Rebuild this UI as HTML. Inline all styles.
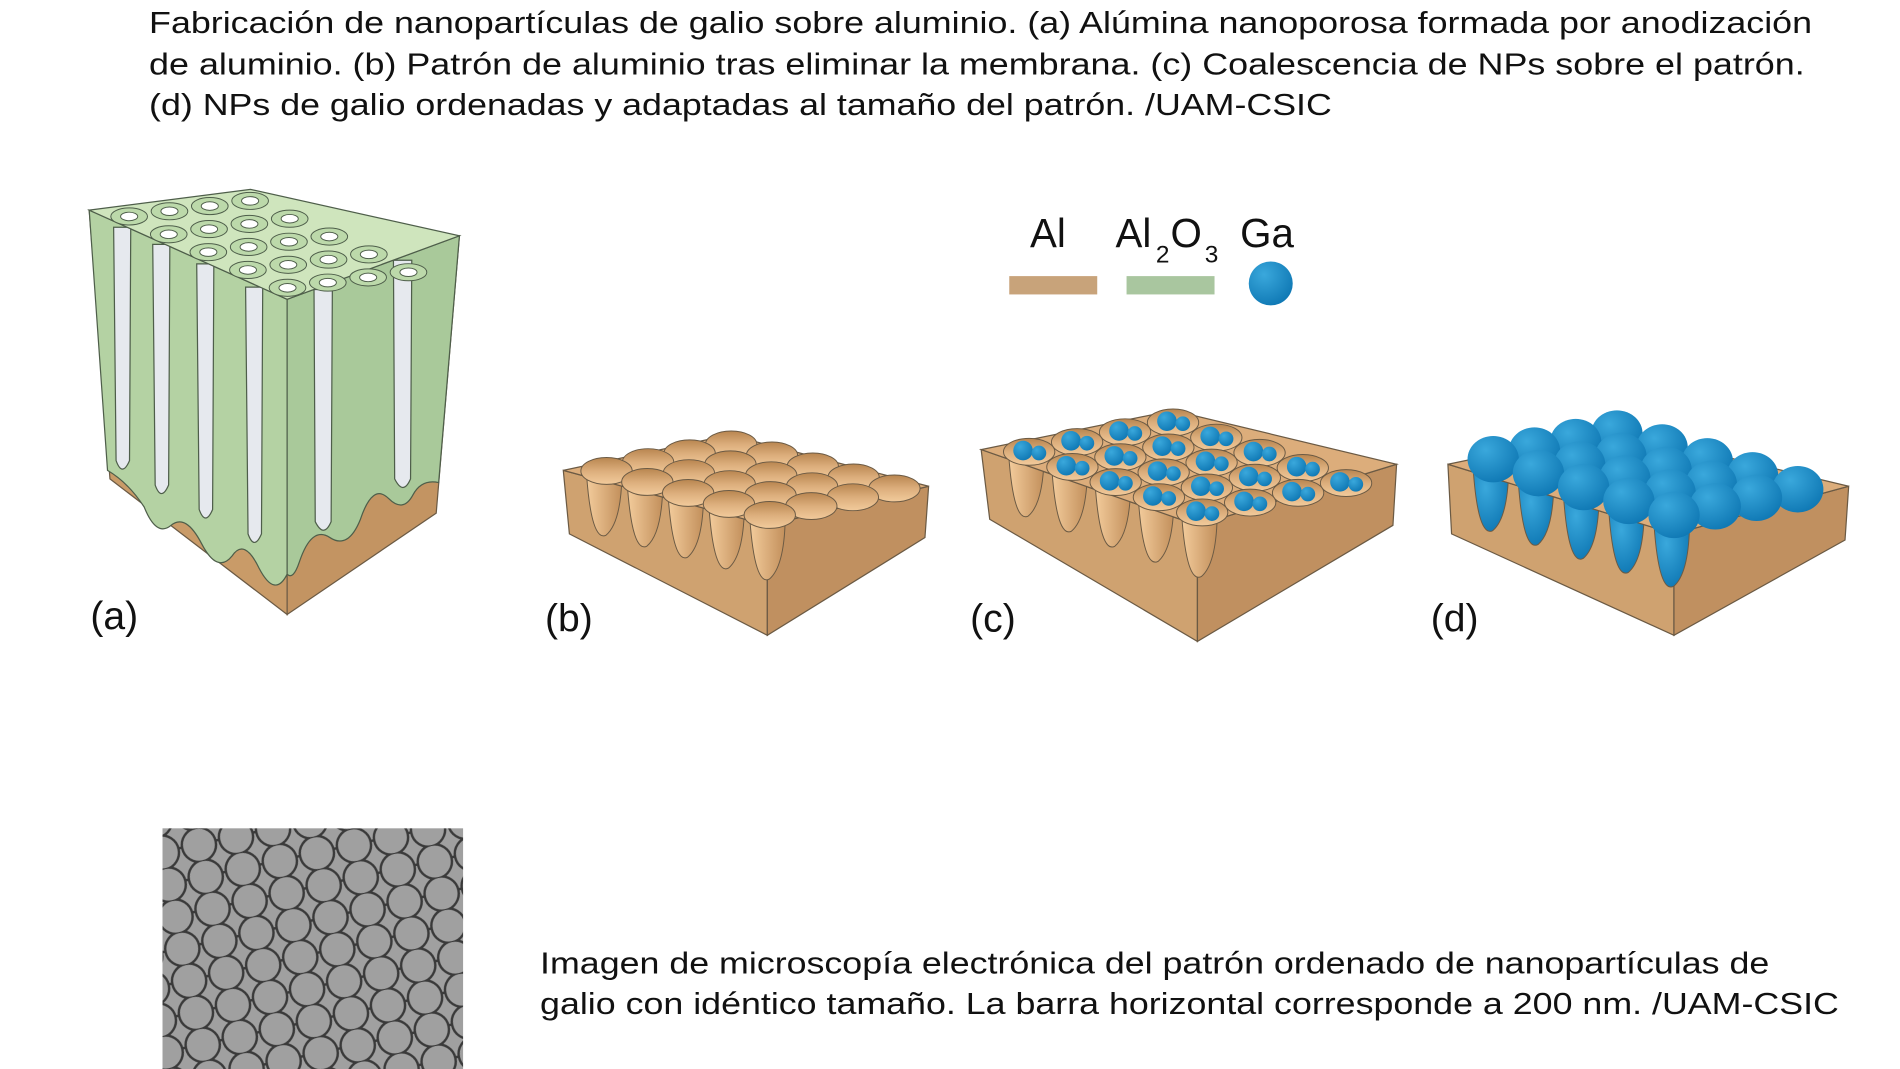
<!DOCTYPE html>
<html><head><meta charset="utf-8"><style>
html,body{margin:0;padding:0;background:#fff;width:1900px;height:1069px;overflow:hidden}
svg{display:block}
text{font-family:"Liberation Sans",Arial,sans-serif;fill:#111}
</style></head><body>
<svg id="s" width="1900" height="1069" viewBox="0 0 1555 875" preserveAspectRatio="none" xmlns="http://www.w3.org/2000/svg">
<defs>
<radialGradient id="gb" cx="0.35" cy="0.3" r="0.75"><stop offset="0" stop-color="#3aa8dc"/><stop offset="1" stop-color="#0f78b4"/></radialGradient>
<linearGradient id="pit" x1="0" y1="0" x2="0" y2="1"><stop offset="0" stop-color="#b98650"/><stop offset="0.5" stop-color="#dcae7c"/><stop offset="1" stop-color="#f2cb9c"/></linearGradient>
<linearGradient id="cut" x1="0" y1="0" x2="1" y2="0"><stop offset="0" stop-color="#f3cc9c"/><stop offset="1" stop-color="#c28f5b"/></linearGradient>
<pattern id="sem" width="31" height="26.8" patternUnits="userSpaceOnUse" patternTransform="rotate(-12)">
<rect width="31" height="26.8" fill="#4a4a4a"/>
<circle cx="0" cy="0" r="14" fill="#a0a0a0" stroke="#3a3a3a" stroke-width="2"/>
<circle cx="31" cy="0" r="14" fill="#a0a0a0" stroke="#3a3a3a" stroke-width="2"/>
<circle cx="0" cy="26.8" r="14" fill="#a0a0a0" stroke="#3a3a3a" stroke-width="2"/>
<circle cx="31" cy="26.8" r="14" fill="#a0a0a0" stroke="#3a3a3a" stroke-width="2"/>
<circle cx="15.5" cy="13.4" r="14" fill="#a0a0a0" stroke="#3a3a3a" stroke-width="2"/>
</pattern>
</defs>
<text x="122" y="27" font-size="25" textLength="1361" lengthAdjust="spacingAndGlyphs">Fabricación de nanopartículas de galio sobre aluminio. (a) Alúmina nanoporosa formada por anodización</text>
<text x="122" y="61" font-size="25" textLength="1355" lengthAdjust="spacingAndGlyphs">de aluminio. (b) Patrón de aluminio tras eliminar la membrana. (c) Coalescencia de NPs sobre el patrón.</text>
<text x="122" y="94" font-size="25" textLength="968" lengthAdjust="spacingAndGlyphs">(d) NPs de galio ordenadas y adaptadas al tamaño del patrón. /UAM-CSIC</text>

<text x="843" y="202" font-size="33">Al</text>
<text x="913" y="202" font-size="33">Al</text><text x="946" y="215" font-size="20">2</text><text x="958" y="202" font-size="33">O</text><text x="986" y="215" font-size="20">3</text>
<text x="1015" y="202" font-size="33">Ga</text>
<rect x="826" y="226" width="72" height="15" fill="#c8a37a"/>
<rect x="922" y="226" width="72" height="15" fill="#a9c69f"/>
<circle cx="1040" cy="232" r="18" fill="url(#gb)"/>

<g id="g"></g>

<text x="74" y="515" font-size="32">(a)</text>
<text x="446" y="517" font-size="32">(b)</text>
<text x="794" y="517" font-size="32">(c)</text>
<text x="1171" y="517" font-size="32">(d)</text>

<rect x="133" y="678" width="246" height="205" fill="url(#sem)"/>
<text x="442" y="797" font-size="25" textLength="1006" lengthAdjust="spacingAndGlyphs">Imagen de microscopía electrónica del patrón ordenado de nanopartículas de</text>
<text x="442" y="830" font-size="25" textLength="1063" lengthAdjust="spacingAndGlyphs">galio con idéntico tamaño. La barra horizontal corresponde a 200 nm. /UAM-CSIC</text>
</svg>
<script>
var g=document.getElementById('g'),h='';
function P(a){return a.map(function(p){return p[0]+','+p[1]}).join(' ')}
function poly(a,f,s){h+='<polygon points="'+P(a)+'" fill="'+f+'" stroke="'+(s||'#6b5a44')+'" stroke-width="1"/>';}
var ST='#4e5e4a';
var L=[73,172],B=[205,155],R=[376,193],F=[235,245];
poly([L,F,[235,503],[90,392]],'#c99b68');
poly([F,R,[357,420],[235,503]],'#c39462');
h+='<path d="M73,172 L235,245 L235,470 Q225,490 212,465 Q200,440 190,455 Q178,470 165,445 Q152,420 140,430 Q128,440 118,415 Q105,395 88,385 Z" fill="#b4d2a3" stroke="'+ST+'"/>';
h+='<path d="M235,245 L376,193 L359,395 Q345,392 338,405 Q330,420 318,408 Q305,395 295,425 Q285,450 270,440 Q255,430 245,460 Q240,475 235,470 Z" fill="#a9c99a" stroke="'+ST+'"/>';
[[100,183,395],[132,197,415],[168,213,435],[208,232,455]].forEach(function(s){var x=s[0];h+='<path d="M'+(x-7)+','+(s[1]+3)+' L'+(x-5)+','+(s[2]-18)+' Q'+x+','+(s[2]-4)+' '+(x+6)+','+(s[2]-18)+' L'+(x+7)+','+(s[1]+3)+' Z" fill="#e6e9ee" stroke="'+ST+'"/>';});
[[265,234,445],[330,210,410]].forEach(function(s){var x=s[0];h+='<path d="M'+(x-8)+','+(s[1]+3)+' L'+(x-7)+','+(s[2]-18)+' Q'+x+','+(s[2]-4)+' '+(x+6)+','+(s[2]-18)+' L'+(x+7)+','+(s[1]+3)+' Z" fill="#e6e9ee" stroke="'+ST+'"/>';});
poly([L,B,R,F],'#cfe5bd',ST);
function M(L,B,F,u,v){return [L[0]+u*(B[0]-L[0])+v*(F[0]-L[0]),L[1]+u*(B[1]-L[1])+v*(F[1]-L[1])];}
for(var i=0;i<4;i++)for(var j=0;j<5;j++){var p=M(L,B,F,(i+0.5)/4,(j+0.5)/5);h+='<ellipse cx="'+p[0]+'" cy="'+p[1]+'" rx="15" ry="7" fill="#bcd9aa" stroke="'+ST+'" stroke-width="0.8"/><ellipse cx="'+p[0]+'" cy="'+p[1]+'" rx="7" ry="3.5" fill="#fff" stroke="'+ST+'" stroke-width="0.8"/>';}
function slab(L,B,R,F,Fb,Lb,Rb,mode){
 poly([L,F,Fb,Lb],'#cfa270');poly([F,R,Rb,Fb],'#c09060');
 for(var k=0;k<5;k++){var p=M(L,B,F,0.12,(k+0.5)/5);h+='<path d="M'+(p[0]-14)+','+(p[1]+2)+' Q'+(p[0]-10)+','+(p[1]+58)+' '+(p[0]+2)+','+(p[1]+52)+' Q'+(p[0]+14)+','+(p[1]+42)+' '+(p[0]+15)+','+(p[1]+4)+' Z" fill="'+(mode==2?'url(#gb)':'url(#cut)')+'" stroke="#6b5a44" stroke-width="0.8"/>';}
 poly([L,B,R,F],'#dcad7b');
 for(var i=3;i>=0;i--)for(var j=0;j<5;j++){var p=M(L,B,F,(i+0.55)/4,(j+0.5)/5);
  if(mode==2){h+='<ellipse cx="'+p[0]+'" cy="'+(p[1]-6)+'" rx="21" ry="19" fill="url(#gb)"/>';}
  else{h+='<ellipse cx="'+p[0]+'" cy="'+p[1]+'" rx="21" ry="11" fill="url(#pit)" stroke="#6b5a44" stroke-width="0.8"/>';
   if(mode==1){h+='<circle cx="'+(p[0]-5)+'" cy="'+(p[1]-1)+'" r="8" fill="url(#gb)"/><circle cx="'+(p[0]+8)+'" cy="'+(p[1]+1)+'" r="6" fill="url(#gb)"/>';}}
 }
}
slab([461,385],[597,356],[760,398],[628,430],[628,520],[466,437],[757,440],0);
slab([803,368],[960,336],[1143,380],[980,430],[980,525],[810,425],[1140,430],1);
slab([1185,380],[1320,352],[1513,398],[1370,437],[1370,520],[1188,437],[1510,442],2);
g.innerHTML=h;
</script>
</body></html>
